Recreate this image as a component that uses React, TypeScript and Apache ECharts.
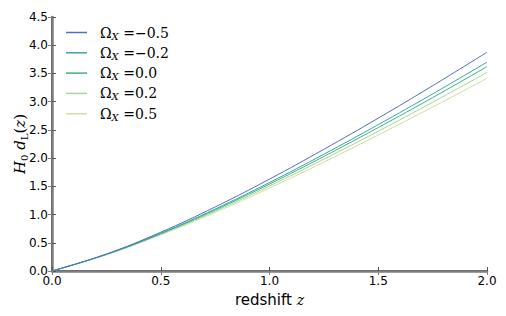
import React, { useEffect, useRef } from "react";
import * as echarts from "echarts";

const redshift = [0, 0.25, 0.5, 0.75, 1.0, 1.25, 1.5, 1.75, 2.0];
const omegaLabels = ["−0.5", "−0.2", "0.0", "0.2", "0.5"];
const dLm05 = [0, 0.301, 0.687, 1.135, 1.628, 2.156, 2.708, 3.282, 3.876];
const dLm02 = [0, 0.296, 0.669, 1.098, 1.567, 2.069, 2.593, 3.137, 3.7];
const dL00 = [0, 0.294, 0.661, 1.081, 1.54, 2.03, 2.542, 3.072, 3.62];
const dLp02 = [0, 0.291, 0.651, 1.06, 1.506, 1.981, 2.476, 2.989, 3.519];
const dLp05 = [0, 0.288, 0.64, 1.038, 1.47, 1.929, 2.409, 2.904, 3.414];
const seriesValues = [dLm05, dLm02, dL00, dLp02, dLp05];
const colors = ["#4f6fbf", "#3ea2ad", "#35b77a", "#a3d896", "#d2dca2"];
const yTicks = [0, 0.5, 1, 1.5, 2, 2.5, 3, 3.5, 4, 4.5];

export default function App() {
  const ref = useRef<HTMLDivElement>(null);
  useEffect(() => {
    if (!ref.current) return;
    const chart = echarts.init(ref.current, null, { renderer: "svg" });
    const serif = "DejaVu Serif";
    const sans = "DejaVu Sans";
    chart.setOption({
      animation: false,
      color: colors,
      grid: { left: 52, right: 19, top: 17, bottom: 45, show: false },
      legend: {
        orient: "vertical",
        left: 66,
        top: 24,
        padding: 0,
        itemWidth: 21,
        itemHeight: 1.5,
        itemGap: 3.3,
        icon: "rect",
        data: omegaLabels.map((n) => ({ name: n })),
        formatter: (name: string) => `{o|Ω}{s|X}{e| =${name}}`,
        textStyle: {
          rich: {
            o: { fontFamily: serif, fontSize: 14, color: "#000", lineHeight: 16, padding: [0, 0, 0, 8] },
            s: { fontFamily: serif, fontStyle: "italic", fontSize: 10, color: "#000", lineHeight: 16, padding: [7, 0, 0, 0] },
            e: { fontFamily: serif, fontSize: 14, color: "#000", lineHeight: 16 },
          },
        },
      },
      xAxis: [
        {
          type: "value",
          min: 0,
          max: 2,
          interval: 0.5,
          position: "bottom",
          name: "{t|redshift }{z|z}",
          nameLocation: "middle",
          nameGap: 21,
          nameMoveOverlap: false,
          nameTextStyle: {
            rich: {
              t: { fontFamily: sans, fontSize: 15, color: "#000" },
              z: { fontFamily: serif, fontStyle: "italic", fontSize: 14, color: "#000" },
            },
          },
          axisLine: { lineStyle: { color: "#000", width: 1.5 } },
          axisTick: { inside: true, length: 4, lineStyle: { color: "#555" } },
          axisLabel: {
            fontFamily: sans,
            fontSize: 12,
            color: "#000",
            margin: 4,
            formatter: (v: number) => v.toFixed(1),
          },
          splitLine: { show: false },
        },
        {
          type: "value",
          min: 0,
          max: 2,
          interval: 0.5,
          position: "top",
          axisLine: { show: true, lineStyle: { color: "#7f7f7f", width: 2.5 } },
          axisTick: { inside: true, length: 4, lineStyle: { color: "#7f7f7f" } },
          axisLabel: { show: false },
          splitLine: { show: false },
        },
      ],
      yAxis: [
        {
          type: "value",
          min: yTicks[0],
          max: yTicks[yTicks.length - 1],
          interval: 0.5,
          position: "left",
          name: "{i|H}{s|0}{i| d}{s|L}{n|(}{i|z}{n|)}",
          nameLocation: "middle",
          nameGap: 23,
          nameMoveOverlap: false,
          nameTextStyle: {
            rich: {
              i: { fontFamily: serif, fontStyle: "italic", fontSize: 15, color: "#000" },
              s: { fontFamily: serif, fontSize: 10, color: "#000", padding: [8, 0, 0, 0] },
              n: { fontFamily: serif, fontSize: 15, color: "#000" },
            },
          },
          axisLine: { show: true, lineStyle: { color: "#000", width: 1.5 } },
          axisTick: { inside: true, length: 4, lineStyle: { color: "#555" } },
          axisLabel: {
            fontFamily: sans,
            fontSize: 12,
            color: "#000",
            margin: 4,
            formatter: (v: number) => v.toFixed(1),
          },
          splitLine: { show: false },
        },
        {
          type: "value",
          min: yTicks[0],
          max: yTicks[yTicks.length - 1],
          interval: 0.5,
          position: "right",
          axisLine: { show: true, lineStyle: { color: "#7f7f7f", width: 2.5 } },
          axisTick: { show: true, inside: true, length: 4, lineStyle: { color: "#7f7f7f" } },
          axisLabel: { show: false },
          splitLine: { show: false },
        },
      ],
      series: seriesValues.map((vals, i) => ({
        type: "line",
        name: omegaLabels[i],
        data: redshift.map((z, j) => [z, vals[j]]),
        smooth: 0.4,
        showSymbol: false,
        symbol: "none",
        lineStyle: { width: 1, color: colors[i] },
        itemStyle: { color: colors[i] },
        z: 10 - i,
      })),
    });
    return () => chart.dispose();
  }, []);
  return <div ref={ref} style={{ width: 506, height: 316, margin: -8 }} />;
}
